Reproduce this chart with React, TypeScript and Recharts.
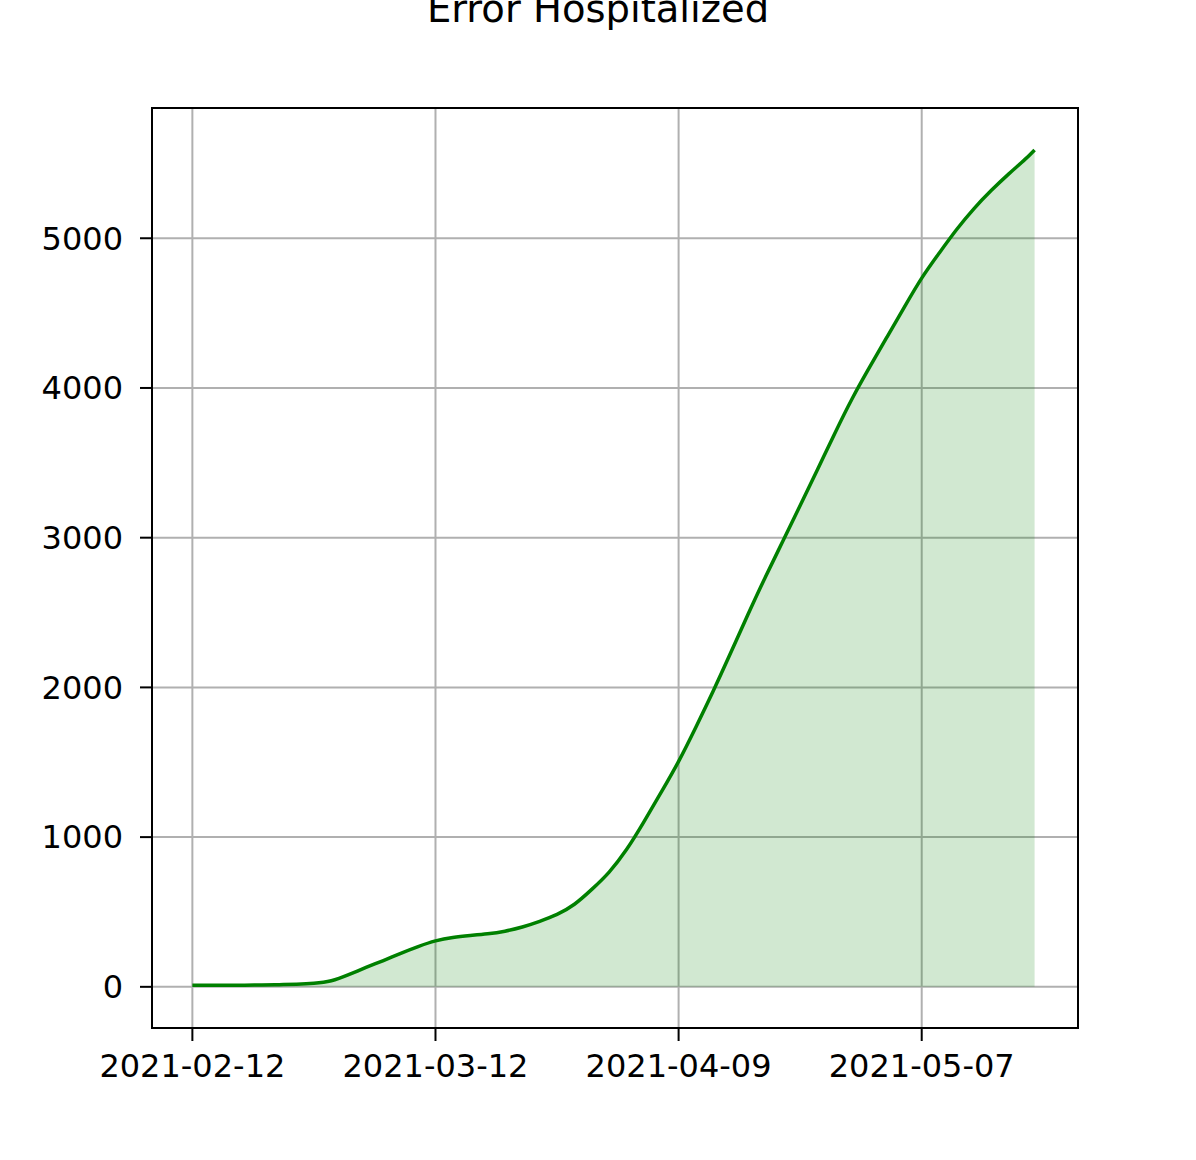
import React from 'react'
import {
  AreaChart,
  Area,
  XAxis,
  YAxis,
  CartesianGrid,
  ReferenceArea,
} from 'recharts'

// days since 2021-02-12
const days = [
  0, 2, 4, 6, 8, 10, 12, 14, 16, 18, 20, 22, 24, 26, 28, 30, 32, 34, 36, 38,
  40, 42, 44, 46, 48, 50, 52, 54, 56, 58, 60, 62, 64, 66, 68, 70, 72, 74, 76,
  78, 80, 82, 84, 86, 88, 90, 92, 94, 96, 97,
]

const hospitalized = [
  10, 10, 10, 11, 12, 14, 17, 22, 35, 80, 130, 175, 225, 270, 310, 332, 343,
  353, 370, 398, 437, 480, 545, 650, 760, 910, 1100, 1300, 1500, 1735, 1975,
  2230, 2490, 2740, 2975, 3215, 3455, 3700, 3935, 4140, 4340, 4540, 4740, 4900,
  5060, 5200, 5320, 5430, 5530, 5590,
]

const xTicks = [0, 28, 56, 84]
const xTickLabels = ['2021-02-12', '2021-03-12', '2021-04-09', '2021-05-07']
const yTicks = [0, 1000, 2000, 3000, 4000, 5000]

const data = days.map((d, i) => ({ day: d, value: hospitalized[i] }))

const X_DOMAIN: [number, number] = [-4.65, 102.0]
const Y_DOMAIN: [number, number] = [-275, 5870]

const FONT = '"DejaVu Sans", sans-serif'

export default function App() {
  return (
    <div style={{ position: 'absolute', left: 0, top: 0, width: 1196, height: 1160, background: '#fff' }}>
      <svg width={1196} height={60} style={{ position: 'absolute', left: 0, top: 0 }}>
        <text x={598} y={22} textAnchor="middle" fontSize={38.5} fontFamily={FONT} fill="#000">
          Error Hospitalized
        </text>
      </svg>
      <AreaChart
        width={1196}
        height={1160}
        data={data}
        margin={{ top: 108, right: 118, left: 0, bottom: 0 }}
      >
        <CartesianGrid stroke="#b0b0b0" strokeWidth={2} />
        <XAxis
          dataKey="day"
          type="number"
          domain={X_DOMAIN}
          ticks={xTicks}
          tickFormatter={(v) => xTickLabels[xTicks.indexOf(v)] ?? ''}
          height={132}
          tickSize={13}
          tickMargin={13}
          axisLine={{ stroke: '#000', strokeWidth: 2 }}
          tickLine={{ stroke: '#000', strokeWidth: 2 }}
          tick={{ fill: '#000', fontSize: 32, fontFamily: FONT }}
          allowDataOverflow
        />
        <YAxis
          type="number"
          domain={Y_DOMAIN}
          ticks={yTicks}
          width={152}
          tickSize={12}
          tickMargin={17}
          axisLine={{ stroke: '#000', strokeWidth: 2 }}
          tickLine={{ stroke: '#000', strokeWidth: 2 }}
          tick={{ fill: '#000', fontSize: 32, fontFamily: FONT }}
          allowDataOverflow
        />
        <Area
          type="basis"
          dataKey="value"
          baseValue={0}
          stroke="#008000"
          strokeWidth={3.5}
          fill="#008000"
          fillOpacity={0.18}
          dot={false}
          activeDot={false}
          isAnimationActive={false}
        />
        <ReferenceArea
          x1={X_DOMAIN[0]}
          x2={X_DOMAIN[1]}
          y1={Y_DOMAIN[0]}
          y2={Y_DOMAIN[1]}
          fill="none"
          stroke="#000"
          strokeWidth={2}
          strokeOpacity={1}
        />
      </AreaChart>
    </div>
  )
}
